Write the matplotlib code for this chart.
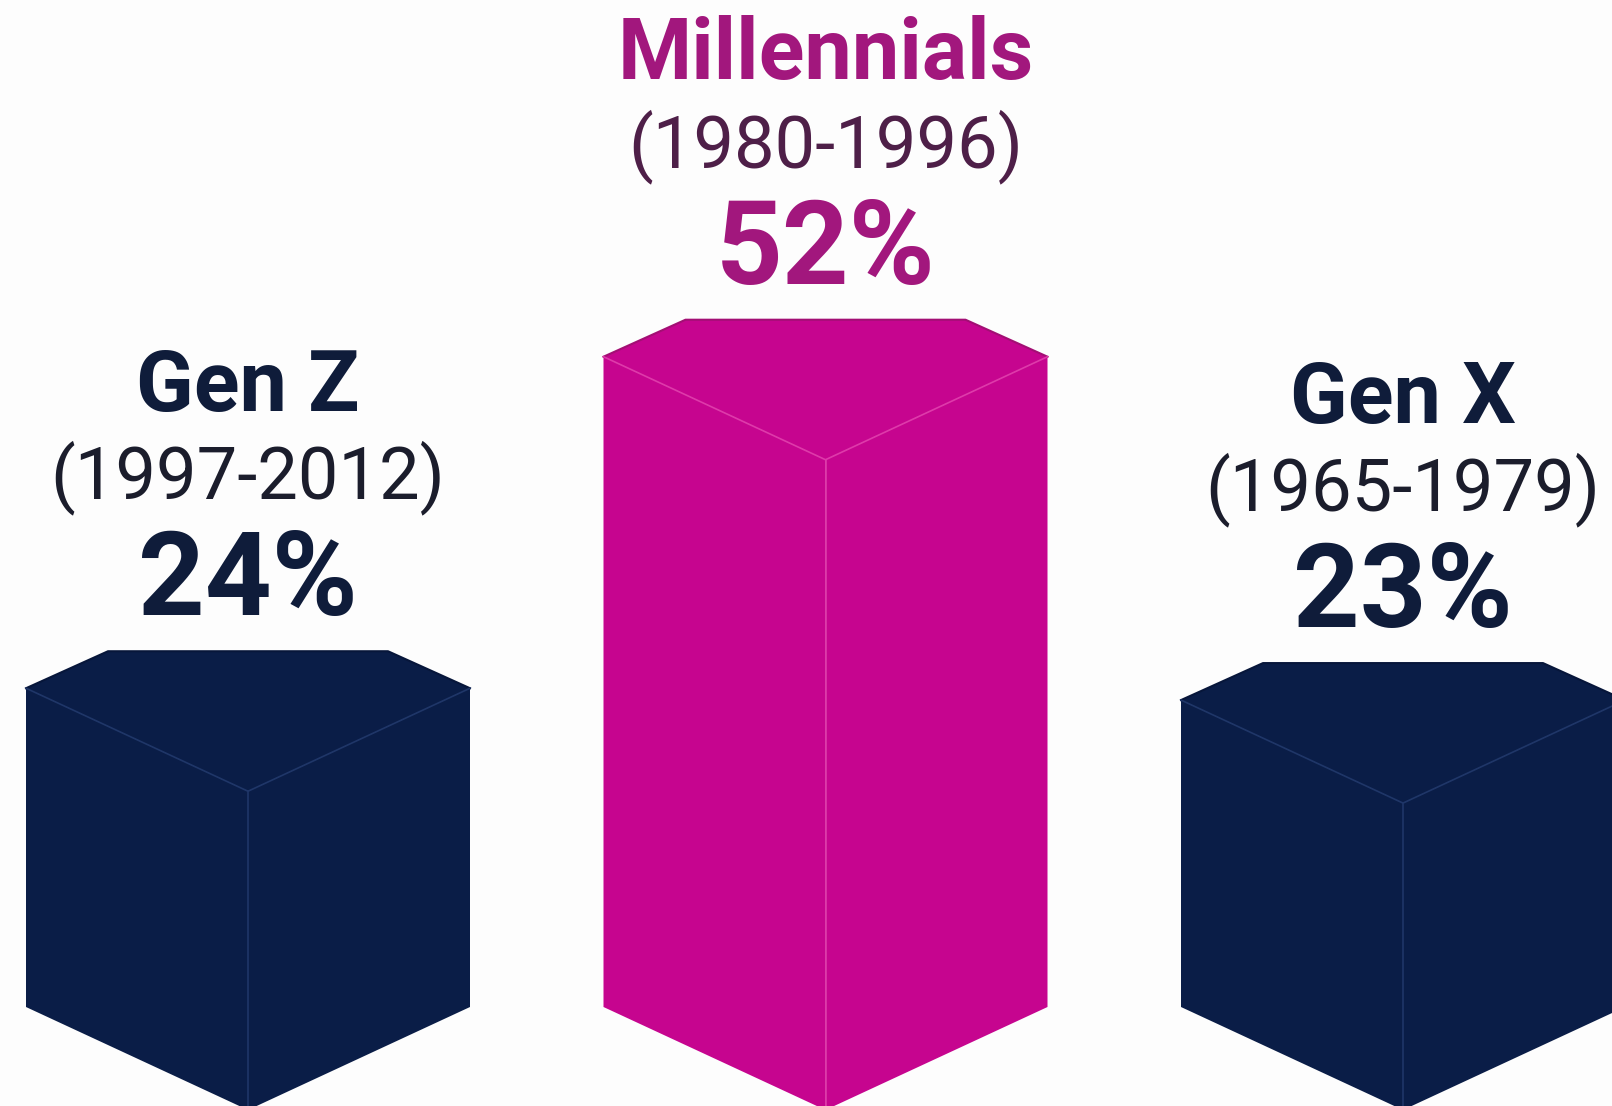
import matplotlib.pyplot as plt
from matplotlib.patches import Polygon

# data
generations = ['Gen Z', 'Millennials', 'Gen X']
years = ['(1997-2012)', '(1980-1996)', '(1965-1979)']
shares = [24, 52, 23]

# styles
box_colors = ['#0a1d47', '#c6058f', '#0a1d47']
line_colors = ['#1f3668', '#de3aaa', '#1f3668']
rim_colors = ['#07163a', '#a30f74', '#07163a']
name_colors = ['#0f1c3a', '#a2177d', '#0f1c3a']
year_colors = ['#1b1d2c', '#4e1f48', '#1b1d2c']
pct_colors = ['#0f1c3a', '#a2177d', '#0f1c3a']

W, H = 1612, 1106
fig = plt.figure(figsize=(W / 100, H / 100), dpi=100)
fig.patch.set_facecolor('#fdfdfd')
ax = fig.add_axes([0, 0, 1, 1])
ax.set_facecolor('#fdfdfd')

# pixel geometry -> data units
px_x = 577.5          # pixels per category step
px_y = 11.84          # pixels per percentage point
zero_px = 972.4       # pixel row of value 0
ax.set_xlim(-248 / px_x, (W - 248) / px_x)
ax.set_ylim((zero_px - H) / px_y, zero_px / px_y)
ax.axis('off')

half_w = 222 / px_x
inset = 82 / px_x
bevel = 37 / px_y
front = 103 / px_y
base = (zero_px - 1007) / px_y

for i, (name, yr, v) in enumerate(zip(generations, years, shares)):
    c = i
    top = [(c - half_w, v), (c - half_w + inset, v + bevel),
           (c + half_w - inset, v + bevel), (c + half_w, v), (c, v - front)]
    left = [(c - half_w, v), (c, v - front), (c, base - front), (c - half_w, base)]
    right = [(c, v - front), (c + half_w, v), (c + half_w, base), (c, base - front)]
    for pts in (left, right, top):
        ax.add_patch(Polygon(pts, closed=True, facecolor=box_colors[i],
                             edgecolor='none', zorder=2))
    # outer rim of the top face
    ax.plot([c - half_w, c - half_w + inset, c + half_w - inset, c + half_w],
            [v, v + bevel, v + bevel, v], color=rim_colors[i], lw=1.5, zorder=3)
    # inner edges
    ax.plot([c - half_w, c, c + half_w], [v, v - front, v],
            color=line_colors[i], lw=1.2, zorder=3)
    ax.plot([c, c], [v - front, base - front], color=line_colors[i], lw=1.2, zorder=3)

    ax.annotate(f'{v}%', xy=(c, v + bevel), xytext=(0, 26), textcoords='offset points',
                ha='center', va='baseline', fontsize=84, fontweight='bold',
                family='Roboto', color=pct_colors[i], zorder=4)
    ax.annotate(yr, xy=(c, v + bevel), xytext=(0, 110), textcoords='offset points',
                ha='center', va='baseline', fontsize=52, family='Roboto',
                color=year_colors[i], zorder=4)
    ax.annotate(name, xy=(c, v + bevel), xytext=(0, 173), textcoords='offset points',
                ha='center', va='baseline', fontsize=61, fontweight='bold',
                family='Roboto', color=name_colors[i], zorder=4)

fig.savefig('out.png', dpi=100, facecolor=fig.get_facecolor())
